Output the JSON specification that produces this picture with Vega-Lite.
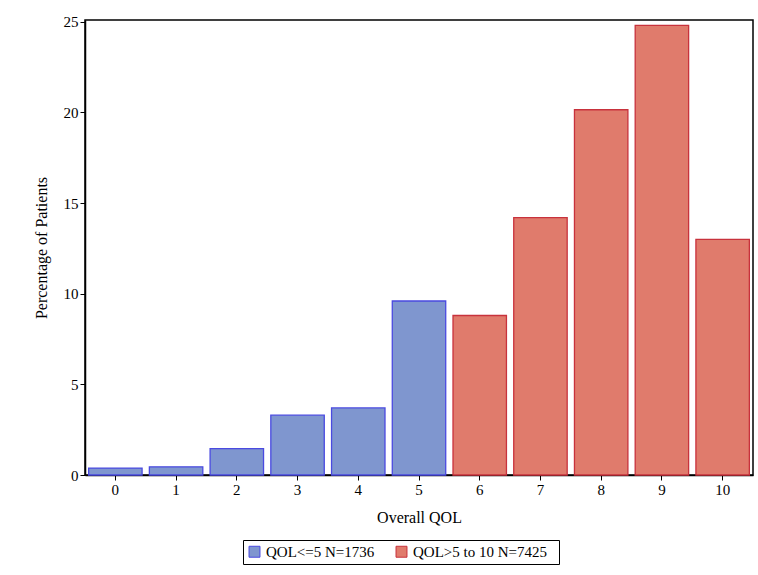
{
"$schema":"https://vega.github.io/schema/vega-lite/v6.json",
"width":668,"height":455,
"padding":{"left":33,"top":14,"right":3,"bottom":5},
"config":{"font":"Liberation Serif","view":{"stroke":"black","strokeWidth":1.5},
"axis":{"labelFont":"Liberation Serif","titleFont":"Liberation Serif","labelFontSize":15,"titleFontSize":16,"titleFontWeight":"normal","domainColor":"black","tickColor":"black","labelColor":"black","titleColor":"black","grid":false,"domainWidth":1.5}},
"data":{"values":[
{"q":"0","p":0.38,"g":"QOL<=5   N=1736"},
{"q":"1","p":0.45,"g":"QOL<=5   N=1736"},
{"q":"2","p":1.45,"g":"QOL<=5   N=1736"},
{"q":"3","p":3.3,"g":"QOL<=5   N=1736"},
{"q":"4","p":3.7,"g":"QOL<=5   N=1736"},
{"q":"5","p":9.6,"g":"QOL<=5   N=1736"},
{"q":"6","p":8.8,"g":"QOL>5 to 10   N=7425"},
{"q":"7","p":14.2,"g":"QOL>5 to 10   N=7425"},
{"q":"8","p":20.15,"g":"QOL>5 to 10   N=7425"},
{"q":"9","p":24.8,"g":"QOL>5 to 10   N=7425"},
{"q":"10","p":13.0,"g":"QOL>5 to 10   N=7425"}]},
"mark":{"type":"bar","strokeWidth":1.3},
"encoding":{
"x":{"field":"q","type":"ordinal","sort":null,"scale":{"paddingInner":0.12,"paddingOuter":0.06},"axis":{"title":"Overall QOL","labelAngle":0,"titlePadding":12}},
"y":{"field":"p","type":"quantitative","scale":{"domain":[0,25.1],"nice":false},"axis":{"title":"Percentage of Patients","values":[0,5,10,15,20,25],"titlePadding":14}},
"fill":{"field":"g","type":"nominal","scale":{"range":["#7f96cf","#e07b6c"]},
"legend":{"title":null,"orient":"none","legendX":158,"legendY":520,"direction":"horizontal","labelFont":"Liberation Serif","labelFontSize":15,"labelColor":"black","strokeColor":"black","padding":4,"symbolType":"square","symbolSize":120,"symbolStrokeColor":"#333","symbolStrokeWidth":1,"columnPadding":12}},
"stroke":{"field":"g","type":"nominal","scale":{"range":["#4a4ae0","#c8323c"]},"legend":null}
}
}
